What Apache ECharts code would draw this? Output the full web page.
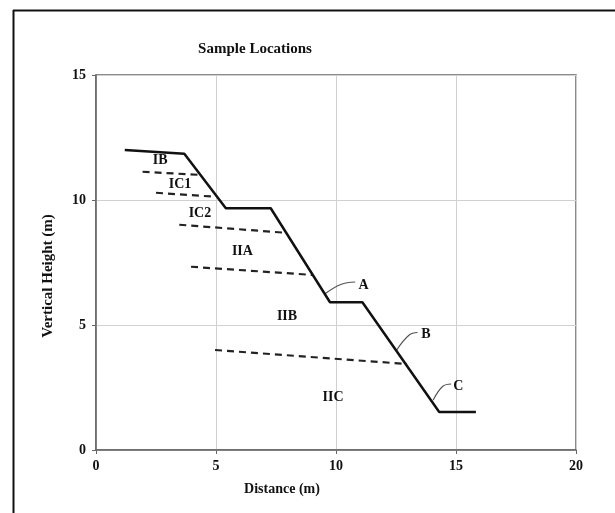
<!DOCTYPE html>
<html>
<head>
<meta charset="utf-8">
<script src="https://cdn.jsdelivr.net/npm/echarts@6/dist/echarts.min.js"></script>
<style>html,body{margin:0;padding:0;background:#fff;}#c{width:615px;height:513px;}</style>
</head>
<body>
<div id="c"></div>
<script>
// Data
var profile = [[1.2,12.0],[3.68,11.85],[5.41,9.67],[7.28,9.67],[9.75,5.91],[11.1,5.91],[14.3,1.52],[15.83,1.52]];
var boundIB  = [[1.94,11.13],[4.4,11.0]];
var boundIC1 = [[2.5,10.29],[4.96,10.13]];
var boundIC2 = [[3.47,9.01],[7.88,8.69]];
var boundIIA = [[3.96,7.33],[9.05,7.0]];
var boundIIB = [[4.96,4.0],[12.96,3.44]];
var leaderA = [[9.53,6.24],[10.2,6.62],[10.8,6.72]];
var leaderB = [[12.53,4.0],[13.05,4.6],[13.4,4.7]];
var leaderC = [[14.05,2.0],[14.45,2.55],[14.8,2.64]];
var zoneLabels = [["IB",2.67,11.6],["IC1",3.5,10.64],["IC2",4.33,9.48],["IIA",6.1,7.96],["IIB",7.96,5.36],["IIC",9.88,2.12]];
var pointLabels = [["A",11.15,6.6],["B",13.75,4.64],["C",15.1,2.56]];
var xTicks = [0,5,10,15,20];
var yTicks = [0,5,10,15];

var FONT = '"Liberation Serif", "Times New Roman", serif';
var chart = echarts.init(document.getElementById('c'), null, {renderer:'canvas'});

function dashed(data){
  return {type:'line', data:data, symbol:'none', silent:true,
    lineStyle:{color:'#222', width:2.2, type:[7,5]}, z:3};
}
function leader(data){
  return {type:'line', data:data, symbol:'none', smooth:0.4, silent:true,
    lineStyle:{color:'#555', width:1.2}, z:3};
}
function labelSeries(arr){
  return {type:'scatter', symbolSize:0, silent:true, z:5,
    itemStyle:{opacity:1},
    data:arr.map(function(d){return {name:d[0], value:[d[1],d[2]]};}),
    label:{show:true, position:'inside', formatter:'{b}', color:'#111', opacity:1,
      fontFamily:FONT, fontWeight:'bold', fontSize:14}};
}

chart.setOption({
  animation:false,
  backgroundColor:'#fff',
  title:{text:'Sample Locations', left:250, top:37, textAlign:'center',
    textStyle:{fontFamily:FONT, fontWeight:'bold', fontSize:15, color:'#111'}},
  grid:{left:96, right:39, top:75, bottom:63, show:true, borderColor:'#666', borderWidth:1.5, backgroundColor:'transparent'},
  xAxis:{type:'value', min:xTicks[0], max:xTicks[xTicks.length-1], interval:5,
    axisLine:{show:true, lineStyle:{color:'#666', width:1.5}},
    axisTick:{show:true, length:4, lineStyle:{color:'#666'}},
    splitLine:{show:true, lineStyle:{color:'#d0d0d0', width:1}},
    axisLabel:{fontFamily:FONT, fontWeight:'bold', fontSize:14, color:'#111', margin:9}},
  yAxis:{type:'value', min:yTicks[0], max:yTicks[yTicks.length-1], interval:5,
    axisLine:{show:true, lineStyle:{color:'#666', width:1.5}},
    axisTick:{show:true, length:4, lineStyle:{color:'#666'}},
    splitLine:{show:true, lineStyle:{color:'#d0d0d0', width:1}},
    axisLabel:{fontFamily:FONT, fontWeight:'bold', fontSize:14, color:'#111', margin:10}},
  graphic:[
    {type:'line', shape:{x1:13, y1:10.5, x2:615, y2:10.5}, style:{stroke:'#111', lineWidth:2}},
    {type:'line', shape:{x1:13.5, y1:10, x2:13.5, y2:513}, style:{stroke:'#111', lineWidth:2}},
    {type:'text', x:282, y:489, style:{text:'Distance (m)', fontFamily:FONT, fontWeight:'bold', fontSize:14, fill:'#111', align:'center', verticalAlign:'middle'}},
    {type:'text', x:48, y:276, rotation:Math.PI/2, style:{text:'Vertical Height (m)', fontFamily:FONT, fontWeight:'bold', fontSize:15, fill:'#111', align:'center', verticalAlign:'middle'}}
  ],
  series:[
    {type:'line', data:profile, symbol:'none', silent:true, lineStyle:{color:'#111', width:2.5}, z:4},
    dashed(boundIB), dashed(boundIC1), dashed(boundIC2), dashed(boundIIA), dashed(boundIIB),
    leader(leaderA), leader(leaderB), leader(leaderC),
    labelSeries(zoneLabels), labelSeries(pointLabels)
  ]
});
</script>
</body>
</html>
